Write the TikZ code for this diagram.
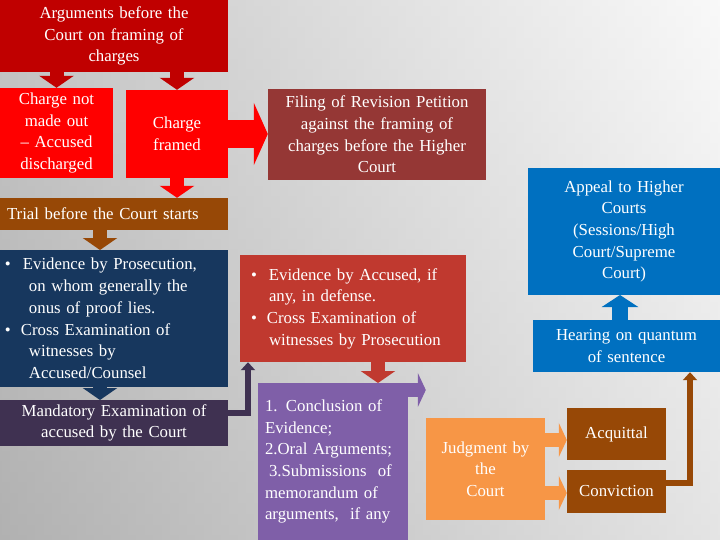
\documentclass[tikz,border=0pt]{standalone}
\usepackage{fontspec}
\setmainfont{Liberation Serif}
\usetikzlibrary{arrows.meta}
\definecolor{cA}{HTML}{C00000}
\definecolor{cB}{HTML}{FF0000}
\definecolor{cD}{HTML}{953735}
\definecolor{cE}{HTML}{974806}
\definecolor{cF}{HTML}{17375E}
\definecolor{cG}{HTML}{3F3151}
\definecolor{cH}{HTML}{C0392F}
\definecolor{cI}{HTML}{7F5FA8}
\definecolor{cJ}{HTML}{F79646}
\definecolor{cK}{HTML}{0070C0}
\begin{document}
\begin{tikzpicture}[x=1pt,y=-1pt,
  box/.style={fill=#1,text=white,inner sep=1pt,font=\fontsize{16.8}{21.7}\selectfont},
  fat/.style={draw=#1,line width=14pt,-{Triangle[width=34pt,length=12pt]}},
  thin/.style={draw=#1,line width=6pt,-{Triangle[width=14pt,length=8pt]}}]
\useasboundingbox (0,0) rectangle (720,540);
\shade[left color=gray!75,right color=gray!8] (0,0) rectangle (720,540);
\shade[top color=white!0,bottom color=gray!40,opacity=0.4] (0,0) rectangle (720,540);
\newcommand\bx[7]{\node[box=#6,minimum width=#3-#2,minimum height=#5-#4,text width=#3-#2-2pt,#7] (#1) at ({(#2+#3)/2},{(#4+#5)/2})}
\bx{A}{0}{228}{0}{72}{cA}{align=center}{Arguments before the\\Court on framing of\\charges};
\bx{B}{0}{113}{88}{178}{cB}{align=center}{Charge not\\made out\\– Accused\\discharged};
\bx{C}{126}{228}{90}{178}{cB}{align=center}{Charge\\framed};
\bx{D}{268}{486}{89}{180}{cD}{align=center}{Filing of Revision Petition\\against the framing of\\charges before the Higher\\Court};
\bx{E}{0}{228}{198}{230}{cE}{align=left}{\hspace*{6pt}Trial before the Court starts};
\bx{F}{0}{228}{250}{387}{cF}{align=left}{\hspace*{4pt}•\hspace{12pt}Evidence by Prosecution,\\\hspace*{28pt}on whom generally the\\\hspace*{28pt}onus of proof lies.\\\hspace*{4pt}•\hspace{10pt}Cross Examination of\\\hspace*{28pt}witnesses by\\\hspace*{28pt}Accused/Counsel};
\bx{G}{0}{228}{400}{446}{cG}{align=center}{Mandatory Examination of\\accused by the Court};
\bx{H}{240}{466}{255}{362}{cH}{align=left}{\hspace*{10pt}•\hspace{12pt}Evidence by Accused, if\\\hspace*{28pt}any, in defense.\\\hspace*{10pt}•\hspace{10pt}Cross Examination of\\\hspace*{28pt}witnesses by Prosecution};
\bx{I}{258}{408}{383}{540}{cI}{align=left}{\hspace*{6pt}1. Conclusion of\\\hspace*{6pt}Evidence;\\\hspace*{6pt}2.Oral Arguments;\\\hspace*{10pt}3.Submissions\ \ of\\\hspace*{6pt}memorandum of\\\hspace*{6pt}arguments,\ \ if any};
\bx{J}{426}{545}{418}{520}{cJ}{align=center}{Judgment by\\the\\Court};
\bx{K}{528}{720}{168}{295}{cK}{align=center}{Appeal to Higher\\Courts\\(Sessions/High\\Court/Supreme\\Court)};
\bx{L}{533}{720}{320}{372}{cK}{align=center}{Hearing on quantum\\of sentence};
\bx{M}{567}{666}{408}{460}{cE}{align=center}{Acquittal};
\bx{N}{567}{666}{470}{513}{cE}{align=center}{Conviction};
\draw[fat=cA] (A.south -| B.north) -- (B.north);
\draw[fat=cA] (A.south -| C.north) -- (C.north);
\draw[fat=cB,line width=28pt,-{Triangle[width=62pt,length=14pt]}] (C.east) -- (D.west |- C.east);
\draw[fat=cB] (C.south) -- (C.south |- E.north);
\draw[fat=cE] (100,230) -- (100,250);
\draw[fat=cF] (100,387) -- (100,400);
\coordinate (g1) at (248,413);
\draw[thin=cG] (G.east |- g1) -- (g1) -- (g1 |- H.south);
\draw[fat=cH] (378,362) -- (378,383);
\draw[fat=cI,-{Triangle[width=34pt,length=8pt]}] (I.east |- 0,390) -- (J.west |- 0,390);
\draw[fat=cJ,-{Triangle[width=34pt,length=8pt]}] (J.east |- 0,440) -- (M.west |- 0,440);
\draw[fat=cJ,-{Triangle[width=34pt,length=8pt]}] (J.east |- 0,493) -- (M.west |- 0,493);
\coordinate (n1) at (690,483);
\draw[thin=cE] (N.east |- n1) -- (n1) -- (n1 |- L.south);
\draw[fat=cK,line width=16pt,-{Triangle[width=36pt,length=12pt]}] (620,320) -- (620,295);
\end{tikzpicture}
\end{document}
